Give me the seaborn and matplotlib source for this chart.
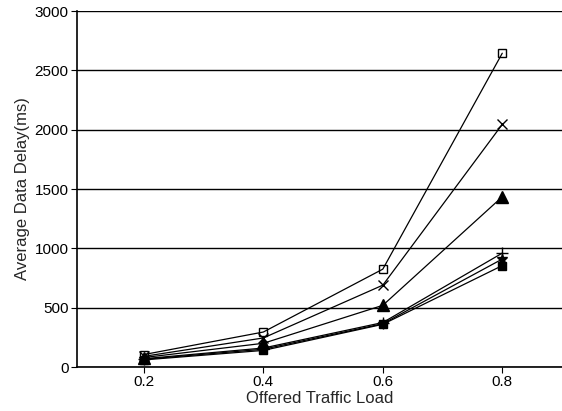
import numpy as np
import pandas as pd
import matplotlib
matplotlib.use('Agg')
import matplotlib.pyplot as plt
import seaborn as sns

sns.set_style('ticks')
plt.rcParams['font.family'] = ['Liberation Sans', 'DejaVu Sans']

# values
load = [0.2, 0.4, 0.6, 0.8]
open_square = [105, 295, 825, 2645]
cross = [90, 245, 690, 2045]
triangle = [80, 200, 520, 1435]
plus = [70, 160, 375, 960]
star = [65, 150, 365, 910]
filled_square = [60, 140, 360, 855]

df = pd.DataFrame({'load': load, 'open_square': open_square, 'cross': cross,
                   'triangle': triangle, 'plus': plus, 'star': star,
                   'filled_square': filled_square})

fig = plt.figure(figsize=(5.62, 4.11), dpi=100)
ax = fig.add_axes([0.137, 0.107, 0.863, 0.866])

styles = [('open_square', 's', 'none', 6),
          ('cross', 'x', 'black', 7),
          ('triangle', '^', 'black', 8),
          ('plus', '+', 'black', 8),
          ('star', '*', 'black', 7),
          ('filled_square', 's', 'black', 6)]
for col, m, fc, ms in styles:
    sns.lineplot(data=df, x='load', y=col, ax=ax, color='black', linewidth=0.9,
                 marker=m, markerfacecolor=fc, markeredgecolor='black',
                 markersize=ms, markeredgewidth=1.0)

ax.set_xlim(0.088, 0.9)
ax.set_ylim(0, 3000)
ax.set_xticks([0.2, 0.4, 0.6, 0.8])
ax.set_xticklabels(['0.2', '0.4', '0.6', '0.8'])
ax.set_yticks(range(0, 3001, 500))
ax.yaxis.grid(True, color='black', linewidth=1.0)
ax.spines['right'].set_visible(False)
ax.spines['top'].set_visible(False)
for s in ['left', 'bottom']:
    ax.spines[s].set_color('black')
    ax.spines[s].set_linewidth(1.2)
ax.tick_params(axis='both', labelsize=11, colors='black', length=4,
               direction='out', pad=2)
ax.set_xlabel('Offered Traffic Load', fontsize=12, labelpad=1)
ax.set_ylabel('Average Data Delay(ms)', fontsize=12, labelpad=3)

fig.savefig('out.png')
